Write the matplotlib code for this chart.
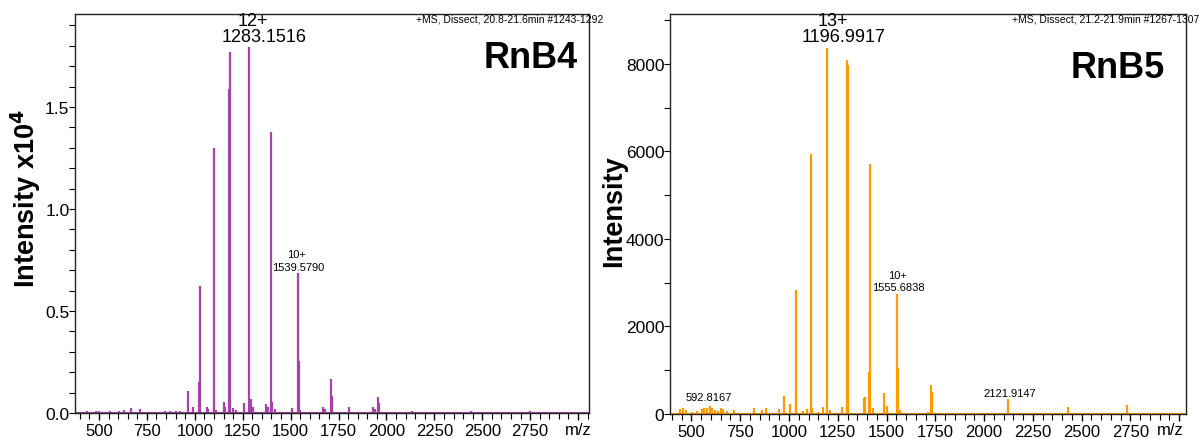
import matplotlib
matplotlib.use("Agg")
import matplotlib.pyplot as plt
from matplotlib.ticker import MultipleLocator

plt.rcParams['font.family'] = ['Liberation Sans', 'DejaVu Sans']

# ---------------- data ----------------
# RnB4 (intensity in units of 1e4)
rnb4_mz = [439, 483, 500, 560, 602, 632, 668, 712, 845, 870, 900, 925,
           962.6, 992, 1022, 1026.7, 1062, 1070, 1100.0, 1102, 1112, 1152, 1160,
           1181, 1184.5, 1202, 1215, 1256, 1283.15, 1292, 1302, 1372, 1380,
           1399.7, 1405, 1421, 1507, 1539.6, 1542, 1551, 1670, 1680,
           1710.5, 1714, 1807, 1930, 1940, 1958, 1963, 2134, 2440, 2750]
rnb4_int = [0.011, 0.010, 0.012, 0.008, 0.010, 0.015, 0.025, 0.018, 0.008, 0.008, 0.008, 0.008,
            0.106, 0.030, 0.150, 0.624, 0.030, 0.020, 1.300, 0.025, 0.015, 0.055, 0.030,
            1.590, 1.771, 0.025, 0.015, 0.050, 1.794, 0.070, 0.030, 0.045, 0.030,
            1.377, 0.055, 0.020, 0.025, 0.686, 0.256, 0.015, 0.030, 0.020,
            0.167, 0.085, 0.028, 0.030, 0.020, 0.077, 0.050, 0.010, 0.008, 0.008]

# RnB5 (intensity, counts)
rnb5_mz = [441, 455, 472, 504, 527, 553, 564, 578, 592.8, 604, 621, 634, 651, 663, 681, 718,
           822, 860, 882, 950, 972.7, 1005, 1035, 1037.5, 1073, 1091, 1111.6, 1116, 1147,
           1173, 1197.0, 1210, 1270, 1296.7, 1300, 1385, 1390, 1410, 1414.5, 1432,
           1488, 1501, 1555.7, 1558, 1569, 1714, 1728.5, 1731, 2121.9, 2125, 2428, 2732]
rnb5_int = [114, 129, 91, 53, 68, 114, 129, 144, 190, 144, 91, 68, 129, 106, 76, 91,
            144, 91, 129, 114, 420, 220, 2790, 2826, 76, 114, 5947, 144, 53,
            167, 8357, 91, 167, 8091, 7977, 360, 380, 950, 5712, 129,
            470, 180, 2750, 1045, 91, 53, 666, 500, 340, 150, 160, 200]

x_ticks = [500, 750, 1000, 1250, 1500, 1750, 2000, 2250, 2500, 2750, 3000]
x_tick_labels = ['500', '750', '1000', '1250', '1500', '1750', '2000', '2250',
                 '2500', '2750', '']
x_unit = 'm/z'

rnb4_yticks = [0.0, 0.5, 1.0, 1.5]
rnb4_ytick_labels = ['0.0', '0.5', '1.0', '1.5']
rnb5_yticks = [0, 2000, 4000, 6000, 8000]
rnb5_ytick_labels = ['0', '2000', '4000', '6000', '8000']

PURPLE = '#A444A8'
ORANGE = '#FF9A00'

W, H = 1199, 439
fig = plt.figure(figsize=(W / 100, H / 100), dpi=100)

def px_axes(l, t, r, b):
    return fig.add_axes([l / W, 1 - b / H, (r - l) / W, (b - t) / H])

axL = px_axes(75, 15, 589, 414)
axR = px_axes(670, 15, 1186, 415)

def style(ax, xlim, ylim, yticks, ylabels, yminor):
    ax.set_xlim(*xlim)
    ax.set_ylim(*ylim)
    ax.set_xticks(x_ticks, x_tick_labels)
    ax.xaxis.set_minor_locator(MultipleLocator(50))
    ax.set_yticks(yticks, ylabels)
    ax.yaxis.set_minor_locator(MultipleLocator(yminor))
    ax.tick_params(axis='x', which='major', length=5, width=1, pad=2, labelsize=12)
    ax.tick_params(axis='x', which='minor', length=4, width=0.8)
    ax.tick_params(axis='y', which='both', length=4, width=0.8, pad=0, labelsize=12.5)
    for s in ax.spines.values():
        s.set_linewidth(1.0)
        s.set_color('#222222')

# left panel
axL.vlines(rnb4_mz, 0, rnb4_int, colors=PURPLE, lw=1.6)
axL.axhline(0, color=PURPLE, lw=1.5)
style(axL, (375, 3057), (0, 1.956), rnb4_yticks, rnb4_ytick_labels, 0.1)

# right panel
axR.vlines(rnb5_mz, 0, rnb5_int, colors=ORANGE, lw=1.6)
axR.axhline(0, color=ORANGE, lw=1.5)
style(axR, (390, 3035), (0, 9140), rnb5_yticks, rnb5_ytick_labels, 1000)

# annotations (positions in pixels)
def ftext(x, y, s, **kw):
    fig.text(x / W, 1 - y / H, s, **kw)

ftext(578, 430.5, x_unit, ha='center', va='center', fontsize=12)
ftext(1170, 430.5, x_unit, ha='center', va='center', fontsize=12)

ftext(253, 22, '12+', ha='center', va='center', fontsize=13)
ftext(264, 37.5, '1283.1516', ha='center', va='center', fontsize=13)
ftext(296.5, 255, '10+', ha='center', va='center', fontsize=8)
ftext(298.5, 268, '1539.5790', ha='center', va='center', fontsize=8)
ftext(603, 19, '+MS, Dissect, 20.8-21.6min #1243-1292', ha='right', va='center', fontsize=7.5)
ftext(578, 59, 'RnB4', ha='right', va='center', fontsize=26, fontweight='bold')

ftext(833, 22, '13+', ha='center', va='center', fontsize=13)
ftext(843.5, 37, '1196.9917', ha='center', va='center', fontsize=13)
ftext(897.5, 276, '10+', ha='center', va='center', fontsize=8)
ftext(898.5, 288, '1555.6838', ha='center', va='center', fontsize=8)
ftext(709, 398, '592.8167', ha='center', va='center', fontsize=8)
ftext(1009.5, 394, '2121.9147', ha='center', va='center', fontsize=8)
ftext(1199, 19, '+MS, Dissect, 21.2-21.9min #1267-1307', ha='right', va='center', fontsize=7.5)
ftext(1164.5, 69, 'RnB5', ha='right', va='center', fontsize=26, fontweight='bold')

# y labels
ftext(26, 199, r'Intensity x10$^{\mathbf{4}}$', ha='center', va='center', rotation=90,
      fontsize=19.5, fontweight='bold')
ftext(614, 211, 'Intensity', ha='center', va='center', rotation=90,
      fontsize=19.5, fontweight='bold')

fig.savefig('out.png', dpi=100)
